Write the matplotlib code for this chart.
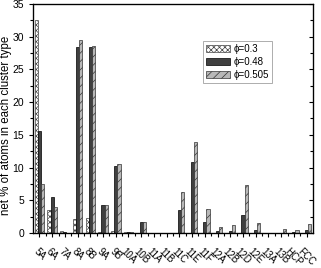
import matplotlib
matplotlib.use("Agg")
import matplotlib.pyplot as plt
import matplotlib.ticker as ticker
import numpy as np

plt.rcParams['font.family'] = ['Liberation Sans', 'DejaVu Sans']
plt.rcParams['hatch.linewidth'] = 0.5

clusters = ['5A', '6A', '7A', '8A', '8B', '9A', '9B', '10A', '10B', '11A', '11B',
            '11C', '11E', '11F', '12A', '12B', '12D', '12E', '13A', '13B', 'HCP', 'FCC']
phi_030 = [32.6, 3.5, 0.3, 2.1, 2.3, 0.2, 0.3, 0.1, 0.0, 0.0, 0.0,
           0.0, 0.0, 0.0, 0.0, 0.0, 0.0, 0.0, 0.0, 0.0, 0.0, 0.0]
phi_048 = [15.6, 5.5, 0.1, 28.5, 28.5, 4.2, 10.2, 0.1, 1.6, 0.0, 0.0,
           3.5, 10.9, 1.6, 0.3, 0.3, 2.8, 0.4, 0.0, 0.0, 0.2, 0.4]
phi_0505 = [7.5, 4.0, 0.0, 29.5, 28.6, 4.3, 10.5, 0.1, 1.7, 0.0, 0.0,
            6.2, 13.9, 3.6, 0.9, 1.2, 7.4, 1.5, 0.0, 0.6, 0.4, 1.3]
labels = ['\u03d5=0.3', '\u03d5=0.48', '\u03d5=0.505']

fig = plt.figure(figsize=(3.21, 2.68), dpi=100)
ax = fig.add_axes([0.103, 0.131, 0.872, 0.854])

x = np.arange(len(clusters))
w = 0.25
ax.bar(x - w, phi_030, w, color='white', edgecolor='#444444', hatch='xxxxxx', lw=0.5, label=labels[0])
ax.bar(x, phi_048, w, color='#404040', edgecolor='black', lw=0.5, label=labels[1])
ax.bar(x + w, phi_0505, w, color='#b8b8b8', edgecolor='#333333', hatch='////', lw=0.5, label=labels[2])

ax.set_xlim(-0.5, len(clusters) - 0.5)
ax.set_ylim(0, 35)
ax.set_xticks(x)
ax.set_xticklabels(clusters, rotation=-45, ha='center', va='top', fontsize=7)
ax.xaxis.set_minor_locator(ticker.FixedLocator(x[:-1] + 0.5))
ax.yaxis.set_major_locator(ticker.MultipleLocator(5))
ax.yaxis.set_minor_locator(ticker.MultipleLocator(2.5))
ax.tick_params(axis='y', which='major', labelsize=7.5)
ax.tick_params(axis='both', which='major', width=0.8, length=3, direction='out')
ax.tick_params(axis='both', which='minor', width=0.8, length=2.5, direction='out')
ax.tick_params(axis='x', which='major', pad=7)
for sp in ax.spines.values():
    sp.set_linewidth(0.9)

# right side ticks point inward
ax2 = ax.twinx()
ax2.set_ylim(ax.get_ylim())
ax2.yaxis.set_major_locator(ticker.MultipleLocator(5))
ax2.yaxis.set_minor_locator(ticker.MultipleLocator(2.5))
ax2.tick_params(axis='y', which='both', direction='in', length=3, width=0.8, labelright=False)
ax2.tick_params(axis='y', which='minor', length=2.5)

ax.set_ylabel('net % of atoms in each cluster type', fontsize=8.3)
ax.yaxis.set_label_coords(-0.075, 0.47)

leg = ax.legend(loc='upper left', bbox_to_anchor=(0.607, 0.838), fontsize=7, frameon=True,
                fancybox=False, edgecolor='#888888', handlelength=2.5, handleheight=0.75,
                borderpad=0.3, labelspacing=0.3, handletextpad=0.35, borderaxespad=0)
leg.get_frame().set_linewidth(0.6)

fig.savefig('out.png', dpi=100)
